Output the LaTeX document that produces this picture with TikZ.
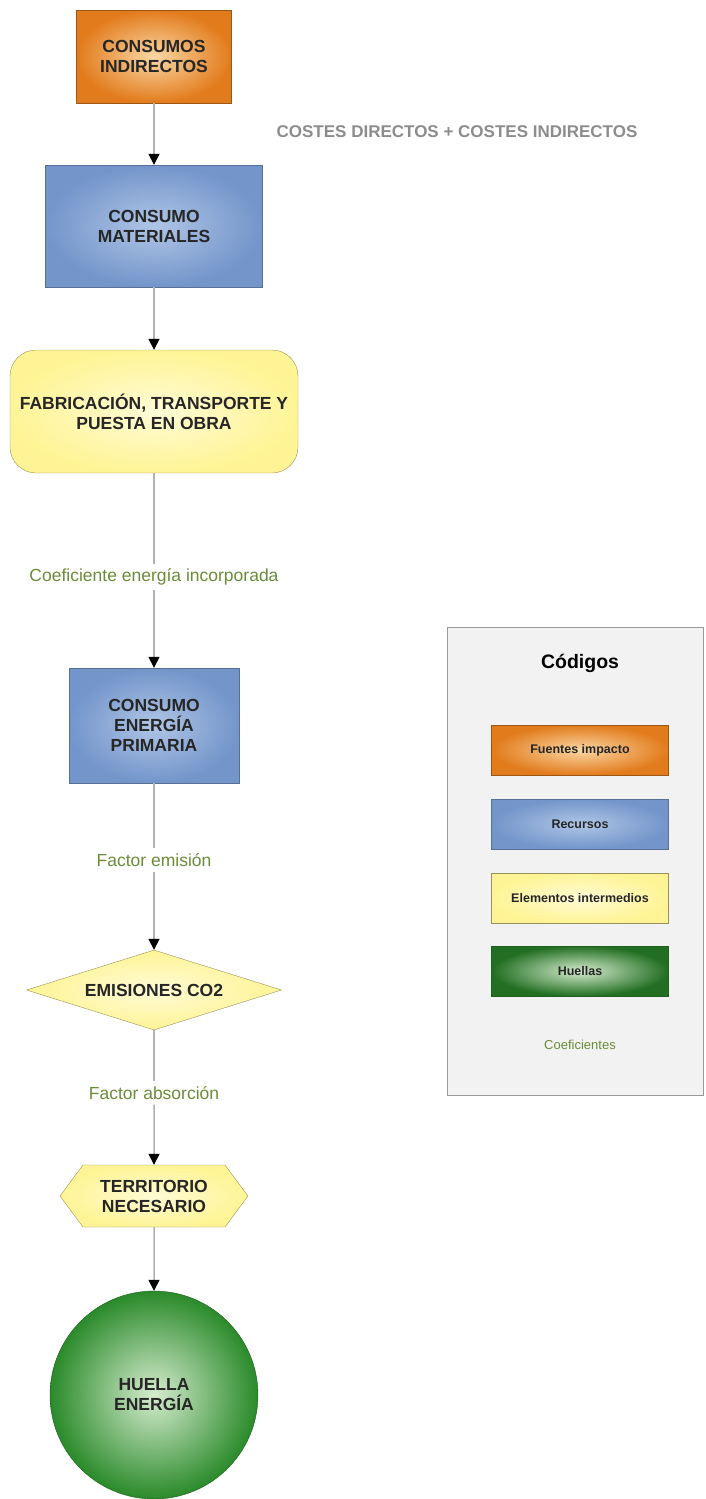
\documentclass[tikz,border=0pt]{standalone}
\usepackage{fontspec}
\setmainfont{Liberation Sans}
\usetikzlibrary{shapes.geometric,shapes.symbols,arrows.meta}

\definecolor{naranja}{HTML}{E27B1C}
\definecolor{naranjaclaro}{HTML}{FAD7A4}
\definecolor{azul}{HTML}{7395CA}
\definecolor{azulclaro}{HTML}{AFC5E6}
\definecolor{amarillo}{HTML}{FFF495}
\definecolor{amarilloclaro}{HTML}{FFFBD6}
\definecolor{verde}{HTML}{2A8A2A}
\definecolor{verdeclaro}{HTML}{D6ECCF}
\definecolor{verdetexto}{HTML}{6A8C38}

\tikzstyle{txt} = [font=\bfseries\fontsize{17.5}{20}\selectfont, text=black!85, align=center, inner sep=0pt]
\tikzstyle{fuente} = [txt, rectangle, draw=naranja!70!black, inner color=naranjaclaro, outer color=naranja]
\tikzstyle{recurso} = [txt, rectangle, draw=azul!75!black, inner color=azulclaro, outer color=azul]
\tikzstyle{intermedio} = [txt, draw=amarillo!60!black, inner color=amarilloclaro, outer color=amarillo]
\tikzstyle{huella} = [txt, draw=verde!70!black, inner color=verdeclaro, outer color=verde]
\tikzstyle{coef} = [font=\fontsize{17.5}{20}\selectfont, text=verdetexto, inner sep=5pt]
\tikzstyle{linea} = [draw=black!30, line width=1.5pt]
\tikzstyle{flecha} = [linea, -{Triangle[color=black, length=11pt, width=11pt]}]
\tikzstyle{leyenda} = [font=\bfseries\fontsize{12.5}{14}\selectfont, minimum width=177pt, minimum height=50pt]

\begin{document}
\begin{tikzpicture}[x=1pt,y=-1pt]
\useasboundingbox (0,0) rectangle (705,1499);

% cadena principal
\node[fuente, minimum width=155pt, minimum height=93pt] (ci) at (154,56.5) {CONSUMOS\\INDIRECTOS};
\node[font=\bfseries\fontsize{17}{20}\selectfont, text=black!45] (costes) at (457,132) {COSTES DIRECTOS + COSTES INDIRECTOS};
\node[recurso, minimum width=217pt, minimum height=122pt] (cm) at (154,226) {CONSUMO\\MATERIALES};
\node[intermedio, rectangle, rounded corners=26pt, minimum width=288pt, minimum height=123pt] (fab) at (154,411.5) {FABRICACIÓN, TRANSPORTE Y\\PUESTA EN OBRA};
\node[coef] (cei) at (154,577) {Coeficiente energía incorporada};
\node[recurso, minimum width=170pt, minimum height=115pt] (cep) at (154,725.5) {CONSUMO\\ENERGÍA\\PRIMARIA};
\node[coef] (fem) at (154,860) {Factor emisión};
\node[intermedio, diamond, aspect=3.2, minimum width=255pt, minimum height=80pt] (emi) at (154,990) {EMISIONES CO2};
\node[coef] (fab2) at (154,1093) {Factor absorción};
\node[intermedio, signal, signal to=west and east, signal pointer angle=107, minimum width=188pt, minimum height=62pt] (ter) at (154,1196) {TERRITORIO\\NECESARIO};
\node[huella, circle, minimum size=208pt] (he) at (154,1395) {HUELLA\\ENERGÍA};

\draw[flecha] (ci) -- (cm);
\draw[flecha] (cm) -- (fab);
\draw[linea] (fab) -- (cei);
\draw[flecha] (cei) -- (cep);
\draw[linea] (cep) -- (fem);
\draw[flecha] (fem) -- (emi);
\draw[linea] (emi) -- (fab2);
\draw[flecha] (fab2) -- (ter);
\draw[flecha] (ter) -- (he);

% leyenda
\node[draw=black!40, fill=black!5!white, minimum width=256pt, minimum height=468pt, inner sep=0pt] (cod) at (575,861) {};
\node[font=\bfseries\fontsize{19.5}{22}\selectfont] (titulo) at (580,663) {Códigos};
\node[fuente, leyenda] (lfi) at (580,750) {Fuentes impacto};
\node[recurso, leyenda] (lre) at (580,824) {Recursos};
\node[intermedio, rectangle, leyenda] (lei) at (580,898) {Elementos intermedios};
\node[huella, rectangle, leyenda, outer color=verde!80!black] (lhu) at (580,971) {Huellas};
\node[coef, font=\fontsize{13}{15}\selectfont] (lco) at (580,1045) {Coeficientes};
\end{tikzpicture}
\end{document}
